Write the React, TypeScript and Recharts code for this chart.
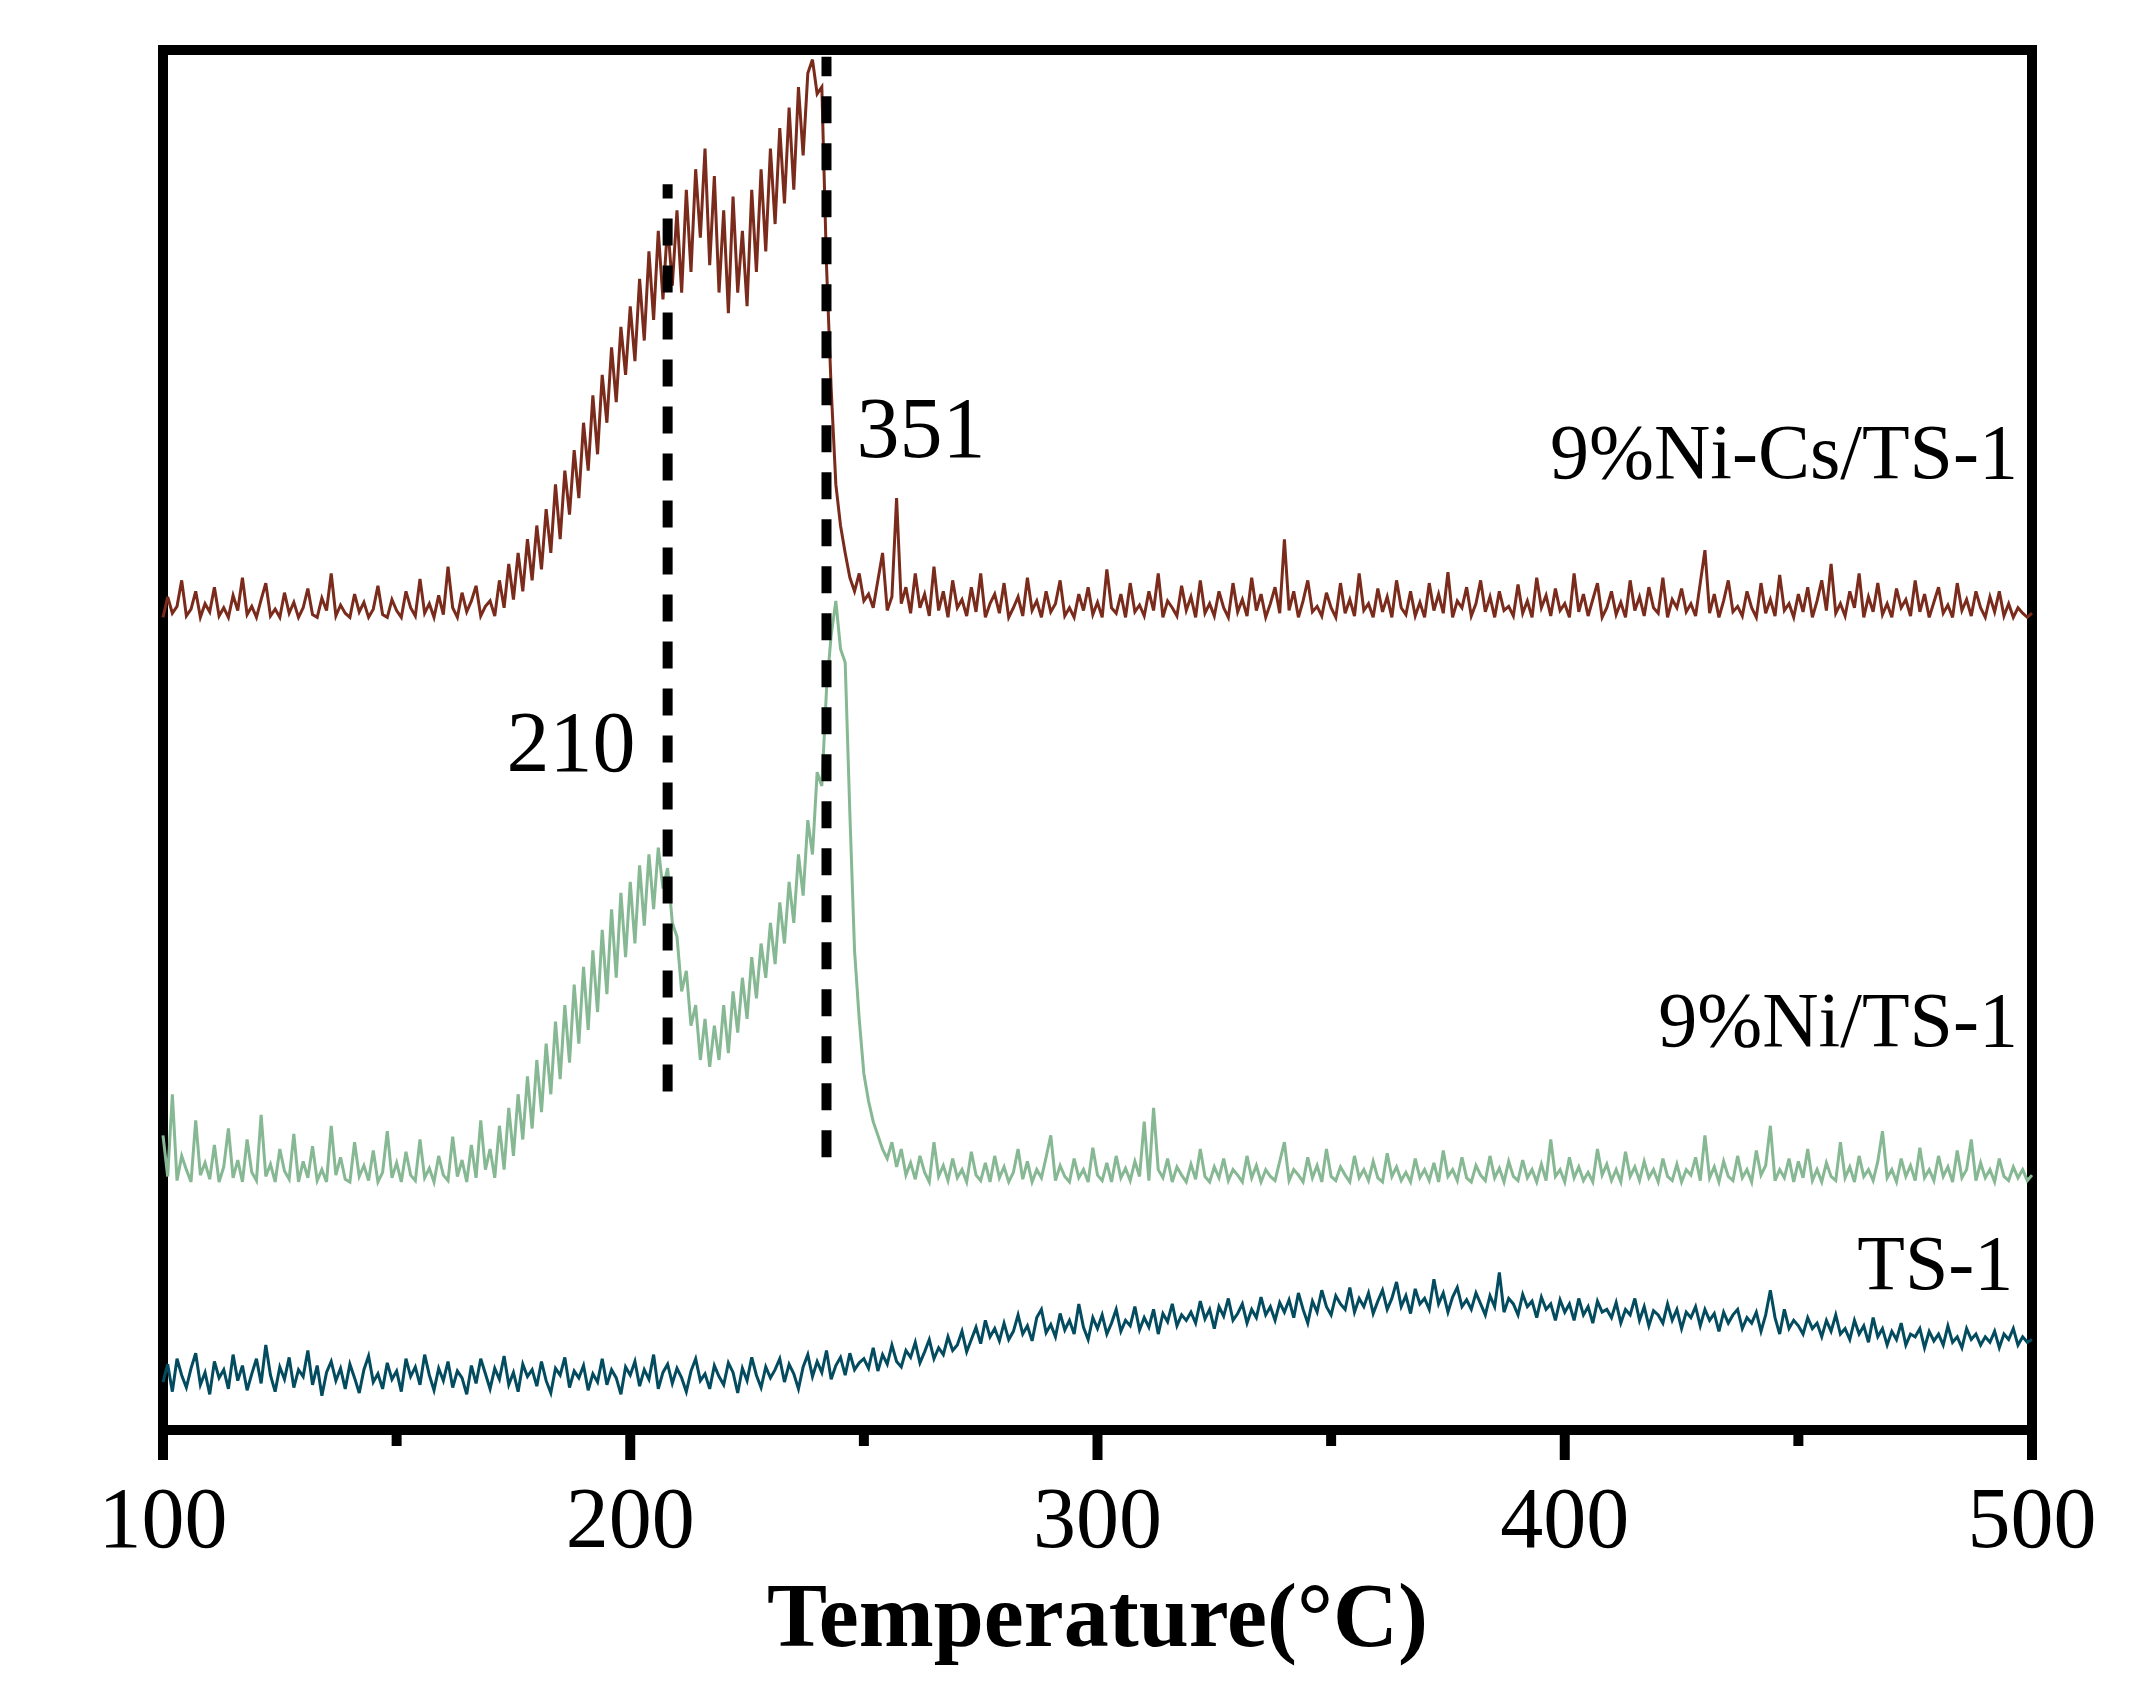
import {
  LineChart,
  Line,
  XAxis,
  YAxis,
  ReferenceArea,
  ReferenceLine,
  ReferenceDot,
} from 'recharts'

// temperature grid of the scan (°C), one reading per degree
const temps: number[] = Array.from({ length: 401 }, (_, i) => 100 + i)

const majorTicks = [100, 200, 300, 400, 500]
const allTicks = [100, 150, 200, 250, 300, 350, 400, 450, 500]

// 9%Ni-Cs/TS-1 (offset, a.u.), rows of 10 °C
const niCs = [
  593, 608, 596, 601, 620, 594, 599, 612, 593, 603,
  597, 615, 594, 600, 593, 609, 598, 622, 595, 601,
  593, 606, 618, 594, 599, 593, 611, 596, 604, 593,
  600, 614, 595, 593, 607, 598, 625, 594, 602, 596,
  593, 610, 597, 604, 593, 599, 616, 595, 593, 606,
  598, 593, 612, 600, 594, 621, 596, 603, 593, 609,
  595, 630, 600, 593, 611, 597, 605, 616, 594, 601,
  605, 594, 620, 600, 632, 606, 640, 612, 650, 620,
  660, 628, 672, 640, 690, 650, 700, 668, 715, 680,
  735, 700, 755, 712, 770, 735, 790, 750, 805, 770,
  820, 780, 840, 795, 860, 810, 875, 825, 880, 835,
  890, 830, 905, 845, 920, 870, 935, 850, 915, 830,
  890, 815, 900, 830, 875, 820, 905, 845, 920, 860,
  935, 880, 950, 895, 965, 905, 980, 930, 990, 1000,
  975, 980, 850, 760, 690, 660, 640, 622, 612, 625,
  605, 610, 600, 620, 640, 598, 608, 680, 603, 615,
  596, 625, 600, 610, 594, 630, 598, 612, 593, 620,
  600, 606, 594, 615, 597, 625, 593, 603, 610, 596,
  618, 593, 600, 608, 594, 622, 598, 605, 593, 612,
  597, 603, 620, 594, 600, 593, 610, 598, 615, 595,
  604, 593, 628, 600, 596, 610, 593, 618, 597, 602,
  594, 612, 598, 625, 593, 605, 600, 594, 616, 598,
  608, 593, 620, 596, 603, 594, 612, 600, 593, 618,
  597, 606, 594, 622, 598, 610, 593, 603, 615, 596,
  650, 598, 612, 593, 605, 620, 597, 601, 594, 611,
  600, 593, 618, 596, 606, 594, 625, 598, 603, 593,
  614, 597, 608, 593, 620, 600, 595, 612, 594, 604,
  593, 618, 598, 610, 596, 626, 593, 605, 600, 615,
  594, 603, 620, 597, 608, 593, 612, 598, 601, 594,
  617, 596, 605, 593, 622, 600, 609, 594, 614, 598,
  603, 593, 625, 597, 610, 594, 606, 618, 593, 600,
  612, 595, 604, 593, 620, 598, 608, 594, 615, 600,
  596, 622, 593, 606, 600, 614, 597, 603, 594, 618,
  642, 596, 610, 593, 605, 620, 597, 601, 594, 612,
  600, 593, 618, 596, 606, 594, 624, 598, 603, 593,
  610, 597, 615, 593, 605, 620, 598, 632, 596, 603,
  594, 612, 600, 625, 593, 608, 597, 618, 595, 603,
  593, 614, 600, 606, 594, 620, 597, 610, 593, 604,
  615, 596, 602, 593, 618, 598, 606, 594, 612, 600,
  593, 608, 597, 612, 594, 603, 593, 600, 596, 593,
  596,
]

// 9%Ni/TS-1
const ni = [
  215, 185, 245, 182, 200, 190, 181, 226, 186, 195,
  183, 208, 181, 192, 220, 184, 197, 181, 212, 188,
  182, 230, 185, 194, 181, 205, 189, 183, 216, 181,
  196, 184, 207, 182, 190, 181, 222, 186, 199, 183,
  181, 210, 185, 193, 182, 204, 181, 188, 218, 184,
  195, 181, 203, 186, 182, 212, 184, 191, 181, 200,
  186, 182, 214, 185, 197, 181, 208, 184, 226, 190,
  205, 184, 222, 190, 235, 200, 245, 212, 258, 220,
  270, 232, 282, 245, 298, 256, 310, 268, 325, 282,
  338, 292, 350, 305, 365, 318, 380, 330, 392, 345,
  400, 355, 412, 368, 420, 380, 425, 395, 410, 370,
  360, 320, 335, 295, 310, 270, 300, 265, 295, 270,
  310, 275, 320, 290, 330, 300, 345, 315, 355, 330,
  370, 340, 385, 355, 400, 370, 420, 390, 445, 420,
  480, 470, 540, 580, 605, 570, 560, 450, 350, 300,
  260, 240, 225, 215, 205, 198, 210, 192, 205, 186,
  195, 183, 200, 188, 181, 210, 185, 193, 182, 198,
  184, 190, 181, 203, 186, 182, 195, 181, 200, 184,
  192, 181, 188, 205, 183, 196, 181, 190, 184, 199,
  215, 182, 193, 185, 181, 198, 184, 190, 181, 206,
  186, 182, 195, 181, 200, 184, 191, 182, 196, 185,
  225, 182, 235, 190, 184, 198, 181, 192, 186, 181,
  194, 183, 205, 185, 181, 192, 184, 198, 182, 190,
  186, 181, 200, 184, 193, 181, 190, 185, 182, 196,
  210, 182, 190, 186, 181, 199, 184, 193, 181, 205,
  185, 182, 192, 186, 181, 200, 184, 190, 182, 196,
  184, 181, 202, 185, 192, 182, 188, 181, 198, 184,
  190, 182, 195, 181, 204, 185, 190, 182, 199, 184,
  181, 193, 186, 182, 200, 184, 191, 181, 196, 185,
  182, 197, 184, 190, 181, 194, 182, 212, 185, 190,
  181, 199, 184, 192, 182, 188, 181, 205, 186, 194,
  182, 190, 181, 203, 185, 192, 182, 196, 184, 190,
  181, 198, 185, 182, 194, 181, 190, 186, 199, 182,
  215, 184, 192, 181, 196, 185, 182, 200, 184, 190,
  181, 204, 186, 193, 222, 182, 190, 184, 198, 181,
  196, 184, 205, 182, 190, 181, 195, 185, 182, 210,
  184, 192, 181, 200, 185, 190, 182, 196, 218, 184,
  190, 181, 198, 185, 193, 182, 206, 184, 190, 182,
  200, 185, 192, 181, 204, 184, 190, 212, 182, 195,
  184, 190, 181, 198, 185, 182, 192, 184, 190, 182,
  186,
]

// TS-1
const ts1 = [
  35, 48, 28, 52, 40, 31, 45, 56, 33, 42,
  26, 50, 38, 44, 30, 55, 36, 47, 29, 41,
  52, 34, 62, 40, 28, 46, 37, 53, 31, 44,
  39, 58, 33, 47, 25, 42, 50, 36, 45, 30,
  48, 38, 27, 44, 54, 35, 41, 30, 49, 37,
  43, 28, 52, 39, 46, 33, 55, 40, 29, 45,
  36, 50, 31, 43, 38, 26, 47, 34, 52, 41,
  30, 45, 37, 54, 33, 42, 28, 48, 39, 44,
  32, 50, 36, 27, 45, 40, 53, 31, 43, 38,
  47, 29, 41, 35, 52, 33, 44, 38, 26, 46,
  40, 50, 32, 44, 37, 55, 30, 42, 48, 34,
  45, 38, 28, 43, 52, 36, 41, 30, 47, 39,
  33, 49, 42, 27, 45, 36, 53, 40, 31, 46,
  38, 44, 52, 35, 48, 41, 30, 46, 55, 39,
  50, 42, 58, 37, 47, 53, 40, 56, 44, 49,
  52, 45, 60, 43, 55, 48, 62, 50, 46, 58,
  53, 64, 49, 57, 66, 52, 60, 55, 68, 58,
  62, 72, 57, 66, 75, 63, 80, 68, 74, 65,
  78, 66, 72, 84, 70, 76, 65, 82, 88, 71,
  77, 68, 85, 73, 80, 70, 92, 75, 66, 82,
  74, 84, 70, 78, 88, 72, 80, 76, 90, 73,
  82, 75, 88, 70, 85, 79, 92, 76, 84, 80,
  86, 78, 94, 81, 88, 74, 90, 83, 96, 80,
  85, 92, 78, 88, 82, 97, 84, 90, 80, 93,
  86, 95, 82, 100, 88, 78, 94, 86, 102, 90,
  84, 98, 92, 88, 104, 86, 96, 90, 100, 85,
  94, 102, 88, 96, 108, 90, 98, 85, 103, 92,
  96, 88, 110, 92, 100, 86, 97, 104, 90, 95,
  88, 100, 92, 84, 98, 90, 115, 86, 96, 92,
  84, 99, 90, 94, 82, 97, 88, 92, 80, 95,
  86, 92, 80, 96, 84, 90, 78, 94, 86, 88,
  82, 93, 78, 88, 84, 96, 80, 90, 76, 87,
  84, 78, 92, 80, 88, 74, 86, 82, 90, 76,
  88, 80, 85, 72, 86, 78, 84, 88, 74, 82,
  78, 86, 72, 84, 102, 82, 70, 88, 74, 80,
  76, 70, 82, 74, 78, 68, 80, 72, 84, 70,
  74, 66, 80, 70, 76, 64, 82, 68, 74, 62,
  72, 66, 78, 62, 70, 68, 74, 60, 72, 65,
  70, 62, 76, 64, 68, 60, 74, 66, 70, 62,
  68, 64, 72, 60, 70, 66, 74, 62, 68, 64,
  66,
]

const data = temps.map((t, i) => ({ t, niCs: niCs[i], ni: ni[i], ts1: ts1[i] }))

const serif = "'Times New Roman', 'Liberation Serif', serif"

const AxisTick = (props: any) => {
  const { x, y, payload } = props
  const major = majorTicks.includes(payload.value)
  return (
    <g>
      <line x1={x} x2={x} y1={y - 4} y2={y + (major ? 30 : 16)} stroke="#000" strokeWidth={10} />
      {major && (
        <text x={x} y={y + 117} textAnchor="middle" fontSize={86} fontFamily={serif} fill="#000">
          {payload.value}
        </text>
      )}
    </g>
  )
}

const textAt = (text: string, anchor: string, size: number) => (props: any) => {
  const vb = props.viewBox
  return (
    <text x={vb.x} y={vb.y} textAnchor={anchor} fontSize={size} fontFamily={serif} fill="#000">
      {text}
    </text>
  )
}

export default function App() {
  return (
    <div style={{ position: 'absolute', left: 0, top: 0, background: '#fff' }}>
      <LineChart
        width={2139}
        height={1691}
        data={data}
        margin={{ top: 50, right: 107, bottom: 0, left: 163 }}
      >
        <XAxis
          dataKey="t"
          type="number"
          domain={[100, 500]}
          ticks={allTicks}
          interval={0}
          height={261}
          axisLine={false}
          tickLine={false}
          tickSize={0}
          tickMargin={0}
          tick={<AxisTick />}
          label={(p: any) => (
            <text
              x={p.viewBox.x + p.viewBox.width / 2}
              y={p.viewBox.y + 216}
              textAnchor="middle"
              fontSize={90}
              fontWeight="bold"
              fontFamily={serif}
              fill="#000"
            >
              Temperature(°C)
            </text>
          )}
        />
        <YAxis
          type="number"
          domain={[0, 1007]}
          width={0}
          tick={false}
          axisLine={false}
          tickLine={false}
          label={() => (
            <text
              x={96}
              y={747}
              transform="rotate(-90 96 747)"
              textAnchor="middle"
              dy="0.35em"
              fontSize={92}
              fontWeight="bold"
              fontFamily={serif}
              fill="#000"
            >
              Mass Signal(a.u.)
            </text>
          )}
        />
        <Line type="linear" dataKey="ts1" stroke="#034B5E" strokeWidth={3} dot={false} isAnimationActive={false} />
        <Line type="linear" dataKey="ni" stroke="#86B893" strokeWidth={3} dot={false} isAnimationActive={false} />
        <Line type="linear" dataKey="niCs" stroke="#7A2B1C" strokeWidth={3} dot={false} isAnimationActive={false} />
        <ReferenceLine
          segment={[{ x: 208, y: 247 }, { x: 208, y: 909 }]}
          stroke="#000"
          strokeWidth={10}
          strokeDasharray="27 20"
        />
        <ReferenceLine
          segment={[{ x: 242, y: 199 }, { x: 242, y: 1002 }]}
          stroke="#000"
          strokeWidth={10}
          strokeDasharray="27 20"
        />
        <ReferenceArea x1={100} x2={500} y1={0} y2={1007} fill="none" stroke="#000" strokeWidth={10} />
        <ReferenceDot x={497} y={695} r={0} fill="none" stroke="none" label={textAt('9%Ni-Cs/TS-1', 'end', 78)} />
        <ReferenceDot x={497} y={280} r={0} fill="none" stroke="none" label={textAt('9%Ni/TS-1', 'end', 78)} />
        <ReferenceDot x={496} y={103} r={0} fill="none" stroke="none" label={textAt('TS-1', 'end', 78)} />
        <ReferenceDot x={187.3} y={481} r={0} fill="none" stroke="none" label={textAt('210', 'middle', 86)} />
        <ReferenceDot x={262.2} y={710} r={0} fill="none" stroke="none" label={textAt('351', 'middle', 86)} />
      </LineChart>
    </div>
  )
}
